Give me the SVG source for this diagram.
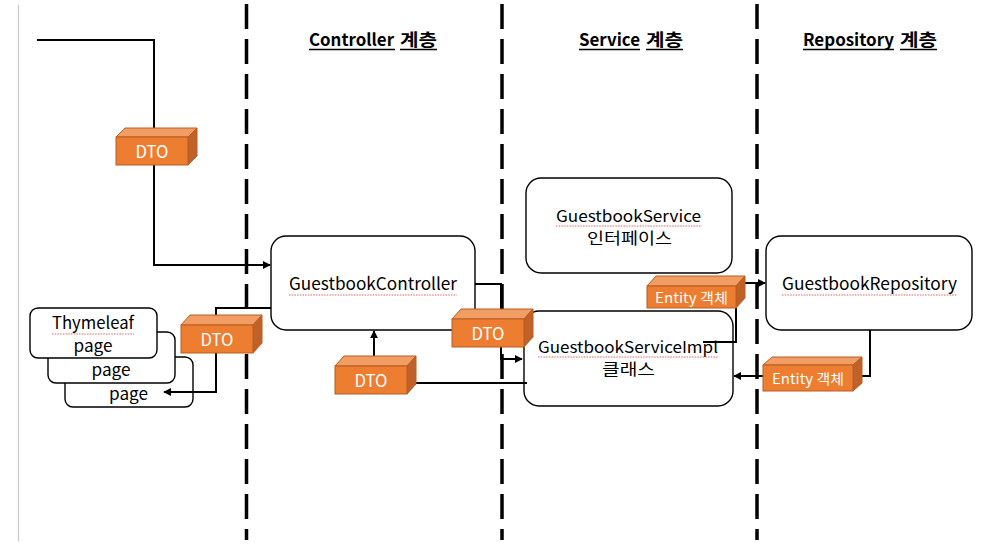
<svg xmlns="http://www.w3.org/2000/svg" width="1007" height="552" viewBox="0 0 1007 552">
<style>
.bg{fill:#fff}
.layer{stroke:#000;stroke-width:3.5;stroke-dasharray:25 10;fill:none}
.box{fill:#fff;stroke:#000;stroke-width:1.4}
.conn{fill:none;stroke:#000;stroke-width:2}
.front{fill:#ED7D31;stroke:#B85E22;stroke-width:1}
.top{fill:#F29D63;stroke:#B85E22;stroke-width:1}
.side{fill:#BF6128;stroke:#B85E22;stroke-width:1}
.t{font-family:"Noto Sans CJK KR","Noto Sans",sans-serif;font-size:17px;fill:#000;text-anchor:middle}
.t2{font-size:15.5px}
.w{font-family:"Noto Sans CJK KR","Noto Sans",sans-serif;fill:#fff;text-anchor:middle}
.h{font-family:"Noto Sans CJK KR","Noto Sans",sans-serif;font-size:17px;font-weight:bold;fill:#000}
.ul{stroke:#000;stroke-width:1.3}
.sq{stroke:#E05050;stroke-width:0.9;stroke-dasharray:1.5 1.2;fill:none}
</style>
<defs>
<marker id="ah" viewBox="0 0 10 10" refX="9" refY="5" markerWidth="4" markerHeight="4" orient="auto" markerUnits="strokeWidth">
<path d="M0,0 L10,5 L0,10 z" fill="#000"/>
</marker>
</defs>
<rect class="bg" x="0" y="0" width="1007" height="552"/>
<line x1="18.5" y1="5" x2="18.5" y2="541" stroke="#C8C8C8" stroke-width="1.2"/>
<g id="layers">
<line class="layer" x1="246.5" y1="4" x2="246.5" y2="540"/>
<line class="layer" x1="502" y1="4" x2="502" y2="540"/>
<line class="layer" x1="757" y1="4" x2="757" y2="540"/>
</g>
<g id="headers">
<text class="h" x="309" y="46" textLength="85" lengthAdjust="spacingAndGlyphs">Controller</text>
<text class="h" x="400" y="46" textLength="37" lengthAdjust="spacingAndGlyphs">계층</text>
<line class="ul" x1="309" y1="49.5" x2="395" y2="49.5"/>
<line class="ul" x1="400" y1="49.5" x2="437" y2="49.5"/>
<text class="h" x="579" y="46" textLength="61" lengthAdjust="spacingAndGlyphs">Service</text>
<text class="h" x="646" y="46" textLength="37" lengthAdjust="spacingAndGlyphs">계층</text>
<line class="ul" x1="579" y1="49.5" x2="640" y2="49.5"/>
<line class="ul" x1="646" y1="49.5" x2="683" y2="49.5"/>
<text class="h" x="803" y="46" textLength="91" lengthAdjust="spacingAndGlyphs">Repository</text>
<text class="h" x="900" y="46" textLength="37" lengthAdjust="spacingAndGlyphs">계층</text>
<line class="ul" x1="803" y1="49.5" x2="894" y2="49.5"/>
<line class="ul" x1="900" y1="49.5" x2="937" y2="49.5"/>
</g>
<g id="pages">
<rect class="box" x="65" y="357" width="128" height="50" rx="8"/>
<rect class="box" x="48" y="332" width="127" height="51" rx="8"/>
<rect class="box" x="30" y="308" width="127" height="50" rx="8"/>
<text class="t" x="93" y="329" textLength="82" lengthAdjust="spacingAndGlyphs">Thymeleaf</text>
<path class="sq" d="M52,334 H134"/>
<text class="t" x="93" y="352" textLength="39" lengthAdjust="spacingAndGlyphs">page</text>
<text class="t" x="111" y="376" textLength="39" lengthAdjust="spacingAndGlyphs">page</text>
<text class="t" x="128.5" y="400" textLength="39" lengthAdjust="spacingAndGlyphs">page</text>
</g>
<g id="controller">
<rect class="box" x="271" y="236" width="204" height="94" rx="15"/>
<text class="t" x="373" y="290" textLength="168" lengthAdjust="spacingAndGlyphs">GuestbookController</text>
<path class="sq" d="M289,295 H457"/>
</g>
<g id="service">
<rect class="box" x="526" y="178" width="206" height="95" rx="15"/>
<text class="t t2" x="628.5" y="221.5" textLength="145" lengthAdjust="spacingAndGlyphs">GuestbookService</text>
<path class="sq" d="M556,226 H701"/>
<text class="t t2" x="629.5" y="244" textLength="85" lengthAdjust="spacingAndGlyphs">인터페이스</text>
</g>
<g id="serviceImpl">
<rect class="box" x="524" y="311" width="209" height="95" rx="15"/>
<text class="t t2" x="628" y="352.5" textLength="180" lengthAdjust="spacingAndGlyphs">GuestbookServiceImpl</text>
<path class="sq" d="M538,357 H718"/>
<text class="t t2" x="628.5" y="375" textLength="53" lengthAdjust="spacingAndGlyphs">클래스</text>
</g>
<g id="repository">
<rect class="box" x="766" y="236" width="206" height="94" rx="15"/>
<text class="t" x="869.5" y="290" textLength="175" lengthAdjust="spacingAndGlyphs">GuestbookRepository</text>
<path class="sq" d="M782,295 H957"/>
</g>
<g id="connectors">
<polyline class="conn" points="37,40 154,40 154,265 270,265" marker-end="url(#ah)"/>
<polyline class="conn" points="271,308 216,308 216,392 164,392" marker-end="url(#ah)"/>
<polyline class="conn" points="475,284 501,284 501,359 522,359" marker-end="url(#ah)"/>
<line class="conn" x1="374" y1="357" x2="374" y2="331" marker-end="url(#ah)"/>
<line class="conn" x1="412" y1="383" x2="527" y2="383"/>
<polyline class="conn" points="703,342 736,342 736,306"/>
<line class="conn" x1="743" y1="283" x2="765" y2="283" marker-end="url(#ah)"/>
<polyline class="conn" points="870,330 870,376 860,376"/>
<line class="conn" x1="765" y1="376" x2="734" y2="376" marker-end="url(#ah)"/>
</g>
<g id="dto1">
<polygon class="top" points="116,137 125,128 197,128 188,137"/>
<polygon class="side" points="188,137 197,128 197,156 188,165"/>
<rect class="front" x="116" y="137" width="72" height="28"/>
<text class="w" x="152" y="158" font-size="17" textLength="33" lengthAdjust="spacingAndGlyphs">DTO</text>
</g>
<g id="dto2">
<polygon class="top" points="181,325 190,315 262,315 253,325"/>
<polygon class="side" points="253,325 262,315 262,343 253,353"/>
<rect class="front" x="181" y="325" width="72" height="28"/>
<text class="w" x="217" y="346" font-size="17" textLength="33" lengthAdjust="spacingAndGlyphs">DTO</text>
</g>
<g id="dto3">
<polygon class="top" points="452,319 461,309 533,309 524,319"/>
<polygon class="side" points="524,319 533,309 533,337 524,347"/>
<rect class="front" x="452" y="319" width="72" height="28"/>
<text class="w" x="488" y="340" font-size="17" textLength="33" lengthAdjust="spacingAndGlyphs">DTO</text>
</g>
<g id="dto4">
<polygon class="top" points="335,366 344,356 416,356 407,366"/>
<polygon class="side" points="407,366 416,356 416,384 407,394"/>
<rect class="front" x="335" y="366" width="72" height="28"/>
<text class="w" x="371" y="387" font-size="17" textLength="33" lengthAdjust="spacingAndGlyphs">DTO</text>
</g>
<g id="entity1">
<polygon class="top" points="647,286 656,276 745,276 736,286"/>
<polygon class="side" points="736,286 745,276 745,298 736,308"/>
<rect class="front" x="647" y="286" width="89" height="22"/>
<text class="w" x="691.5" y="303" font-size="14" textLength="73" lengthAdjust="spacingAndGlyphs">Entity 객체</text>
</g>
<g id="entity2">
<polygon class="top" points="763,365 772,357 862,357 853,365"/>
<polygon class="side" points="853,365 862,357 862,383 853,391"/>
<rect class="front" x="763" y="365" width="90" height="26"/>
<text class="w" x="808" y="384" font-size="14" textLength="72" lengthAdjust="spacingAndGlyphs">Entity 객체</text>
</g>
</svg>
